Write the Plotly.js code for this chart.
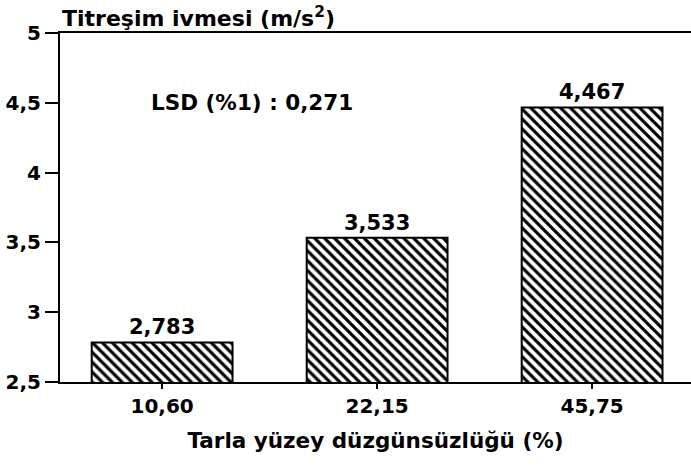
<!DOCTYPE html>
<html>
<head>
<meta charset="utf-8">
<script src="https://cdn.plot.ly/plotly-3.0.1.min.js"></script>
<style>html,body{margin:0;padding:0;background:#fff;}#chart{width:691px;height:466px;}</style>
</head>
<body>
<div id="chart"></div>
<script>
const categories = ["10,60", "22,15", "45,75"];
const values = [2.783, 3.533, 4.467];
const yTicks = [2.5, 3, 3.5, 4, 4.5, 5];
const yTitle = "Titreşim ivmesi (m/s<sup>2</sup>)";
const xTitle = "Tarla yüzey düzgünsüzlüğü (%)";
const note = "LSD (%1) : 0,271";

const FONT = "DejaVu Sans, Liberation Sans, Arial, sans-serif";

const trace = {
  type: "bar",
  x: categories,
  y: values,
  marker: {
    color: "white",
    line: {color: "black", width: 2},
    pattern: {shape: "\\", fgcolor: "black", bgcolor: "white", size: 7, solidity: 0.45}
  },
  texttemplate: "<b>%{y:.3f}</b>",
  textposition: "outside",
  textfont: {family: FONT, size: 21, color: "black"},
  cliponaxis: false,
  hoverinfo: "skip"
};

const layout = {
  width: 691, height: 466,
  margin: {l: 60, r: 0, t: 33, b: 84},
  paper_bgcolor: "white", plot_bgcolor: "white",
  separators: ",.",
  bargap: 0.345,
  showlegend: false,
  font: {family: FONT, color: "black"},
  xaxis: {
    type: "category",
    range: [-0.475, 2.46],
    showline: true, linecolor: "black", linewidth: 2,
    mirror: true,
    ticks: "outside", ticklen: 5, tickwidth: 2, tickcolor: "black",
    tickfont: {family: FONT, size: 20, weight: "bold"},
    showgrid: false, zeroline: false,
    title: {text: "<b>" + xTitle + "</b>", font: {family: FONT, size: 21.5}, standoff: 16}
  },
  yaxis: {
    range: [2.5, 5],
    tickvals: yTicks,
    showline: true, linecolor: "black", linewidth: 2,
    ticks: "outside", ticklen: 13, tickwidth: 2, tickcolor: "black",
    tickfont: {family: FONT, size: 20, weight: "bold"},
    showgrid: false, zeroline: false
  },
  annotations: [
    {xref: "paper", yref: "paper", x: 0.0, y: 1.0, xanchor: "left", yanchor: "bottom",
     yshift: 0, xshift: 0, text: "<b>" + yTitle + "</b>", showarrow: false,
     font: {family: FONT, size: 22, color: "black"}},
    {xref: "x", yref: "y", x: 0.42, y: 4.505, xanchor: "center", yanchor: "middle",
     text: "<b>" + note + "</b>", showarrow: false,
     font: {family: FONT, size: 21.5, color: "black"}}
  ]
};

Plotly.newPlot("chart", [trace], layout, {displayModeBar: false, staticPlot: true});
</script>
</body>
</html>
